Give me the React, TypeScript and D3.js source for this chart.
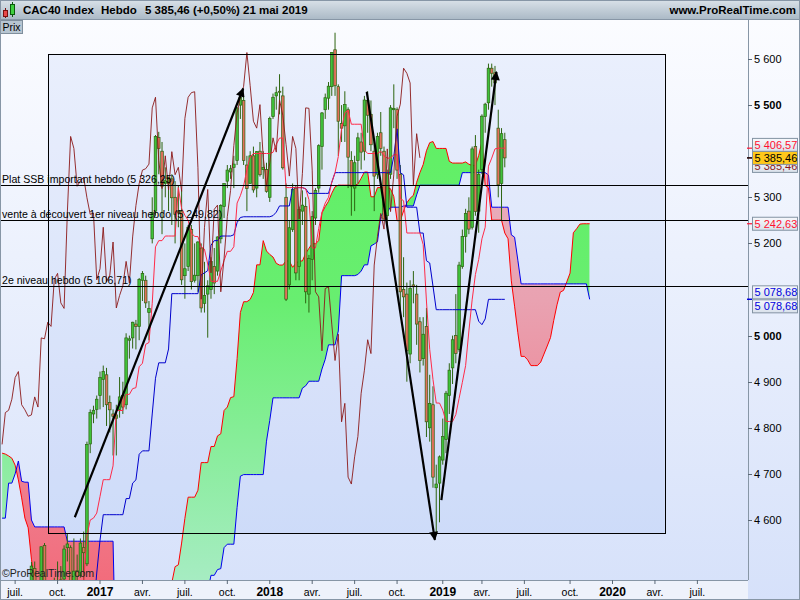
import * as d3 from "d3";

// Weekly bars, CAC40, from the week of 6 June 2016 to the week of 20 May 2019
const firstWeek = new Date(2016, 5, 6);

const opens = [
  4440, 4300, 4240, 4080, 4220, 4200, 4360, 4390, 4430, 4420,
  4495, 4400, 4430, 4545, 4370, 4340, 4385, 4450, 4455, 4472,
  4540, 4540, 4390, 4490, 4480, 4540, 4505, 4765, 4830, 4840,
  4870, 4905, 4915, 4855, 4830, 4820, 4840, 4870, 4850, 4990,
  4995, 5025, 5020, 5120, 5120, 5050, 5210, 5270, 5430, 5400,
  5330, 5330, 5340, 5300, 5270, 5270, 5130, 5150, 5230, 5120,
  5130, 5190, 5070, 5090, 5100, 5150, 5140, 5210, 5280, 5335,
  5355, 5365, 5380, 5500, 5510, 5370, 5330, 5390, 5320, 5400,
  5360, 5360,
  5300, 5475, 5520, 5530, 5520, 5300, 5110, 5230, 5320, 5150,
  5270, 5280, 5090, 5165, 5255, 5320, 5410, 5490, 5515, 5540,
  5620, 5540, 5460, 5455, 5490, 5380, 5320, 5380, 5420, 5400,
  5510, 5480, 5400, 5350, 5440, 5400, 5260, 5350, 5490, 5490,
  5350, 5100, 5090, 4960, 5110, 5090, 5030, 4950, 5020, 4800,
  4850, 4670, 4680,
  4730, 4775, 4870, 4930, 5000, 4970, 5150, 5215, 5270, 5235,
  5410, 5270, 5360, 5475, 5505, 5580, 5570, 5450, 5330, 5425,
];
const highs = [
  4462, 4325, 4465, 4260, 4250, 4392, 4410, 4445, 4440, 4509,
  4510, 4450, 4542, 4550, 4395, 4460, 4475, 4510, 4500, 4545,
  4570, 4545, 4560, 4525, 4560, 4575, 4770, 4840, 4848, 4870,
  4922, 4935, 4930, 4870, 4840, 4850, 4910, 4900, 5005, 5000,
  5030, 5034, 5125, 5140, 5130, 5075, 5300, 5435, 5442, 5420,
  5365, 5345, 5350, 5335, 5325, 5315, 5200, 5240, 5240, 5200,
  5205, 5200, 5160, 5120, 5170, 5190, 5215, 5285, 5330, 5370,
  5370, 5390, 5495, 5517, 5520, 5390, 5400, 5410, 5400, 5420,
  5400, 5375,
  5475, 5525, 5540, 5567, 5540, 5330, 5250, 5330, 5325, 5280,
  5315, 5300, 5175, 5270, 5320, 5415, 5485, 5525, 5550, 5615,
  5657, 5545, 5500, 5530, 5495, 5400, 5390, 5440, 5440, 5520,
  5530, 5510, 5420, 5440, 5485, 5410, 5360, 5500, 5545, 5495,
  5370, 5170, 5115, 5120, 5140, 5110, 5040, 5040, 5060, 4915,
  4890, 4720, 4740,
  4820, 4880, 4940, 5000, 5090, 5160, 5230, 5275, 5300, 5410,
  5435, 5360, 5480, 5505, 5590, 5590, 5585, 5490, 5450, 5440,
];
const lows = [
  4296, 4147, 4035, 3955, 4100, 4190, 4316, 4333, 4325, 4410,
  4380, 4380, 4395, 4385, 4288, 4330, 4340, 4420, 4405, 4440,
  4510, 4360, 4380, 4450, 4475, 4440, 4500, 4745, 4810, 4820,
  4840, 4845, 4804, 4790, 4740, 4740, 4822, 4830, 4840, 4950,
  4972, 4970, 4990, 5075, 5060, 4990, 5200, 5260, 5350, 5220,
  5300, 5270, 5240, 5200, 5235, 5110, 5080, 5140, 5100, 5115,
  5095, 5050, 5050, 4995.5, 5080, 5090, 5130, 5200, 5255, 5320,
  5340, 5320, 5370, 5470, 5370, 5270, 5330, 5310, 5300, 5345,
  5340, 5310,
  5290, 5470, 5490, 5480, 5360, 5075, 5100, 5225, 5120, 5120,
  5240, 5070, 5050, 5120, 5240, 5310, 5360, 5470, 5490, 5520,
  5520, 5390, 5420, 5420, 5320, 5260, 5270, 5330, 5360, 5380,
  5440, 5400, 5270, 5340, 5390, 5250, 5240, 5340, 5450, 5340,
  5050, 5040, 4900, 4940, 5070, 4980, 4920, 4935, 4780, 4770,
  4670, 4567.36, 4595,
  4720, 4745, 4830, 4895, 4940, 4965, 5145, 5180, 5220, 5230,
  5260, 5223.14, 5350, 5440, 5490, 5540, 5500, 5300, 5250, 5365,
];
const closes = [
  4306, 4193, 4106, 4237, 4190, 4373, 4381, 4440, 4411, 4500,
  4400, 4424, 4542, 4385, 4332, 4390, 4448, 4449, 4470, 4537,
  4548, 4377, 4489, 4478, 4550, 4529, 4764, 4833, 4838, 4862,
  4909, 4922, 4850, 4839, 4825, 4828, 4867, 4845, 4995, 4993,
  5029, 5020, 5122, 5135, 5071, 5059, 5267, 5432, 5406, 5324,
  5336, 5343, 5299, 5263, 5266, 5121, 5145, 5235, 5117, 5131,
  5203, 5060, 5087, 5108, 5161, 5114, 5214, 5282, 5330, 5359,
  5362, 5372, 5494, 5517, 5380, 5319, 5390, 5316, 5399, 5349,
  5365, 5313,
  5471, 5517, 5527, 5529, 5364, 5079, 5234, 5317, 5136, 5274,
  5283, 5095, 5167, 5258, 5315, 5412, 5483, 5516, 5541, 5614,
  5542, 5465, 5450, 5501, 5387, 5324, 5375, 5429, 5398, 5511,
  5478, 5414, 5346, 5432, 5406, 5253, 5352, 5494, 5493, 5359,
  5095, 5084, 4967, 5102, 5106, 5025, 4946, 5003, 4813, 4853,
  4693, 4678, 4737,
  4781, 4875, 4925, 4991, 4961, 5153, 5215, 5265, 5231, 5405,
  5269, 5350, 5476, 5502, 5580, 5569, 5548, 5327, 5438, 5385.46,
];

// Leading spans at the left edge (built from bars older than the first one shown)
const senkouALead = [
  4745, 4743, 4739, 4734, 4719, 4687, 4648, 4604, 4583, 4515,
  4460, 4420, 4400, 4380, 4350, 4330, 4300, 4290, 4280, 4270,
  4290, 4310, 4330, 4340, 4360, 4380,
];
const senkouBLead = [
  4604, 4604, 4680, 4680, 4700, 4728, 4684, 4682, 4682, 4600,
  4585, 4585, 4585, 4585, 4585, 4585, 4585, 4585, 4585, 4585,
  4554, 4554, 4554, 4554, 4554, 4554, 4554, 4554, 4554, 4554,
  4554, 4554, 4554, 4554, 4554,
];

// 5 100 and 5 400 sit under the value tags, so they are not shown
const priceTicks = [4600, 4700, 4800, 4900, 5000, 5200, 5300, 5500, 5600];

const levelNames = ["Plat SSB important hebdo", "vente à découvert 1er niveau hebdo", "2e niveau hebdo"];
const levelValues = [5326.25, 5249.82, 5106.71];

const trendStartDates = [new Date(2016, 10, 9), new Date(2018, 6, 28), new Date(2019, 0, 4)];
const trendStartValues = [4606, 5529, 4643];
const trendEndDates = [new Date(2017, 10, 5), new Date(2018, 11, 21), new Date(2019, 4, 2)];
const trendEndValues = [5536, 4557, 5572];

const boxDates = [new Date(2016, 8, 12), new Date(2020, 3, 27)];
const boxValues = [5611, 4572];

// last values shown on the price scale
const tagNames = ["chikou", "tenkan", "prix", "senkouA", "kijun", "senkouB"];
const tagValues = [5385.46, 5406.57, 5385.46, 5242.63, 5078.68, 5078.68];

const instrument = "CAC40 Index";
const period = "Hebdo";
const change = "(+0,50%)";
const quoteDate = "21 mai 2019";

// ---- Ichimoku spans from the bars
const n = closes.length;
const shift = 26;
const weekDates = d3.range(n + shift).map(i => d3.timeDay.offset(firstWeek, 7 * i));

function midRange(from: number, to: number): number {
  const a = Math.max(0, from);
  return (d3.max(highs.slice(a, to + 1))! + d3.min(lows.slice(a, to + 1))!) / 2;
}
const tenkan = d3.range(n).map(i => midRange(i - 8, i));
const kijun = d3.range(n).map(i => midRange(i - 25, i));
const senkouA = d3.range(n + shift).map(i =>
  i < senkouALead.length ? senkouALead[i] : (tenkan[i - shift] + kijun[i - shift]) / 2);
const senkouB = d3.range(n + shift).map(i =>
  i < senkouBLead.length ? senkouBLead[i] : midRange(i - 77, i - shift));
const chikou = d3.range(n - shift).map(i => closes[i + shift]);

const fr = d3.formatLocale({ decimal: ",", thousands: " ", grouping: [3], currency: ["", " €"] });
const fmtTick = fr.format(",.0f");
const fmt2 = fr.format(",.2f");

const W = 800, H = 600;
const PL = 0, PR = 748, PT = 20, PB = 580;
const FONT = "'Liberation Sans', Arial, sans-serif";
const WICK = "#2d6410";
const TAG_H = 13;

const x = d3.scaleTime().domain([new Date(2017, 0, 2), new Date(2018, 11, 31)]).range([100, 439.5]);
const y = d3.scaleLinear().domain([4600, 5600]).range([520, 59]);

const monthNames = ["", "", "", "avr.", "", "", "juil.", "", "", "oct."];
const quarterStarts = d3.timeMonth.every(3)!.range(new Date(2016, 6, 1), new Date(2020, 9, 1));

export default function App() {
  const xi = (i: number) => x(weekDates[i]);
  const seriesLine = (vals: number[]) =>
    d3.line<number>().x((_, i) => xi(i)).y(v => y(v))(vals) ?? "";

  const idx = d3.range(n + shift);
  const areaFrom = (edge: number) =>
    d3.area<number>().x(i => xi(i)).y0(edge).y1(i => y(senkouB[i]))(idx) ?? "";
  const clipFrom = (edge: number) =>
    d3.area<number>().x(i => xi(i)).y0(edge).y1(i => y(senkouA[i]))(idx) ?? "";

  const yPrice = y(tagValues[2]);
  const tagY: Record<string, number> = {
    prix: yPrice,
    tenkan: Math.min(y(tagValues[1]), yPrice - TAG_H),
    chikou: yPrice + 8,
    senkouA: y(tagValues[3]),
    kijun: y(tagValues[4]) - TAG_H / 2 - 0.5,
    senkouB: y(tagValues[5]) + TAG_H / 2 + 0.5,
  };
  const tagColor: Record<string, string> = {
    prix: "#000", tenkan: "#ff1030", chikou: "#8c1a1a", senkouA: "#ff1030", kijun: "#0000dd", senkouB: "#0000dd",
  };

  return (
    <svg width={W} height={H} style={{ position: "fixed", left: 0, top: 0 }} fontFamily={FONT}>
      <defs>
        <linearGradient id="bg" x1="0" x2="0" y1={PT} y2={H} gradientUnits="userSpaceOnUse">
          <stop offset="0" stopColor="#fbfcff" />
          <stop offset="1" stopColor="#d6e1fa" />
        </linearGradient>
        <linearGradient id="head" x1="0" x2="0" y1="0" y2="1">
          <stop offset="0" stopColor="#d9e1e8" />
          <stop offset="1" stopColor="#a9b8c5" />
        </linearGradient>
        <linearGradient id="tag" x1="0" x2="0" y1="0" y2="1">
          <stop offset="0" stopColor="#f6f8fc" />
          <stop offset="1" stopColor="#d9e1eb" />
        </linearGradient>
        <linearGradient id="kumoUp" x1="0" x2="0" y1={PT} y2={PB} gradientUnits="userSpaceOnUse">
          <stop offset="0" stopColor="#5cf05e" />
          <stop offset="0.5" stopColor="#68ee70" />
          <stop offset="1" stopColor="#a6ecc2" />
        </linearGradient>
        <linearGradient id="kumoDown" x1="0" x2="0" y1={PT} y2={PB} gradientUnits="userSpaceOnUse">
          <stop offset="0" stopColor="#e8bccb" />
          <stop offset="0.5" stopColor="#e9a2b1" />
          <stop offset="1" stopColor="#f26c7c" />
        </linearGradient>
        <clipPath id="plot"><rect x={PL + 1} y={PT} width={PR - PL - 1} height={PB - PT} /></clipPath>
        <clipPath id="belowA"><path d={clipFrom(H)} /></clipPath>
        <clipPath id="aboveA"><path d={clipFrom(0)} /></clipPath>
        <marker id="arrow" viewBox="0 0 10 10" refX="9" refY="5" markerWidth="11" markerHeight="9"
          markerUnits="userSpaceOnUse" orient="auto">
          <path d="M0,0 L10,5 L0,10 z" fill="#000" />
        </marker>
      </defs>

      <rect x={0} y={PT} width={W} height={H - PT} fill="url(#bg)" />
      <rect x={0} y={PB} width={PR} height={H - PB} fill="#eef2fb" />

      <g clipPath="url(#plot)">
        <rect x={x(boxDates[0])} y={y(boxValues[0])} width={x(boxDates[1]) - x(boxDates[0])}
          height={y(boxValues[1]) - y(boxValues[0])} fill="rgba(70,110,225,0.08)" />

        {/* cloud */}
        <path d={areaFrom(0)} fill="url(#kumoUp)" clipPath="url(#belowA)" />
        <path d={areaFrom(H)} fill="url(#kumoDown)" clipPath="url(#aboveA)" />
        <path d={seriesLine(senkouA)} fill="none" stroke="#ff0000" strokeWidth={1} />
        <path d={seriesLine(senkouB)} fill="none" stroke="#0000ee" strokeWidth={1} />

        {/* candles */}
        {closes.map((c, i) => {
          const cx = xi(i);
          const o = opens[i];
          const top = y(Math.max(o, c));
          const bot = y(Math.min(o, c));
          return (
            <g key={i}>
              <line x1={cx} x2={cx} y1={y(highs[i])} y2={y(lows[i])} stroke={WICK} strokeWidth={1} />
              <rect x={cx - 1.3} y={top} width={2.6} height={Math.max(1, bot - top)}
                fill={c >= o ? "#3fc23a" : "#e2705c"} stroke={WICK} strokeWidth={0.7} />
            </g>
          );
        })}

        <path d={seriesLine(kijun)} fill="none" stroke="#0000cc" strokeWidth={1} />
        <path d={seriesLine(tenkan)} fill="none" stroke="#ff2a48" strokeWidth={1} />
        <path d={seriesLine(chikou)} fill="none" stroke="#8c1a1a" strokeWidth={1} strokeOpacity={0.9} />

        {levelValues.map((v, i) => (
          <line key={i} x1={PL} x2={PR} y1={Math.round(y(v)) + 0.5} y2={Math.round(y(v)) + 0.5} stroke="#000" />
        ))}
        <rect x={Math.round(x(boxDates[0])) + 0.5} y={Math.round(y(boxValues[0])) + 0.5}
          width={Math.round(x(boxDates[1]) - x(boxDates[0]))}
          height={Math.round(y(boxValues[1]) - y(boxValues[0]))} fill="none" stroke="#000" />

        {trendStartDates.map((d, i) => (
          <line key={i} x1={x(d)} y1={y(trendStartValues[i])} x2={x(trendEndDates[i])} y2={y(trendEndValues[i])}
            stroke="#000" strokeWidth={2.2} markerEnd="url(#arrow)" />
        ))}

        {levelValues.map((v, i) => (
          <text key={i} x={2} y={y(v) - 2.5} fontSize={10.6} fill="#000">
            {`${levelNames[i]} (${fmt2(v)})`}
          </text>
        ))}
        <text x={2} y={PB - 3} fontSize={10.6} fill="#222">©ProRealTime.com</text>
      </g>

      {/* price scale */}
      <line x1={PR + 0.5} x2={PR + 0.5} y1={PT} y2={PB} stroke="#8796a6" />
      {priceTicks.map(v => (
        <g key={v}>
          <line x1={PR} x2={PR + 4} y1={Math.round(y(v)) + 0.5} y2={Math.round(y(v)) + 0.5} stroke="#5a6876" />
          <text x={PR + 6} y={y(v) + 4} fontSize={11} fontWeight={v % 500 === 0 ? "bold" : "normal"} fill="#000">
            {fmtTick(v)}
          </text>
        </g>
      ))}
      {tagNames.map((name, i) => (
        <line key={name} x1={PR - 1} x2={PR + 4} y1={y(tagValues[i])} y2={y(tagValues[i])}
          stroke={tagColor[name]} strokeWidth={1.2} />
      ))}
      {tagNames.map((name, i) => {
        const cy = tagY[name];
        const isPrice = name === "prix";
        return (
          <g key={name}>
            <rect x={PR + 4.5} y={cy - TAG_H / 2} width={45} height={TAG_H}
              fill={isPrice ? "#ffc81a" : "url(#tag)"} stroke="#8393a3" />
            <text x={PR + 6.5} y={cy + 4} fontSize={11} fill={tagColor[name]}>{fmt2(tagValues[i])}</text>
          </g>
        );
      })}

      {/* time scale */}
      <line x1={PL} x2={PR} y1={PB + 0.5} y2={PB + 0.5} stroke="#8796a6" />
      {quarterStarts.map(d => {
        const tx = x(d3.timeMonday.ceil(d));
        const isYear = d.getMonth() === 0;
        return (
          <g key={d.getTime()}>
            <line x1={tx} x2={tx} y1={PB} y2={PB + 4} stroke="#5a6876" />
            <text x={tx} y={PB + 16} textAnchor="middle" fontSize={isYear ? 12 : 10.5}
              fontWeight={isYear ? "bold" : "normal"} fill="#000">
              {isYear ? d.getFullYear() : monthNames[d.getMonth()]}
            </text>
          </g>
        );
      })}

      {/* header */}
      <rect x={0} y={0} width={W} height={PT} fill="url(#head)" />
      <line x1={0} x2={W} y1={PT - 0.5} y2={PT - 0.5} stroke="#8796a6" />
      <line x1={5.5} x2={5.5} y1={8} y2={18} stroke="#7a1010" />
      <rect x={3.5} y={10.5} width={4} height={6} fill="#e84848" stroke="#7a1010" />
      <line x1={12.5} x2={12.5} y1={2} y2={17} stroke="#0d5a0d" />
      <rect x={10.5} y={4.5} width={4} height={10} fill="#3fd03f" stroke="#0d5a0d" />
      <text y={14} fontSize={11.5} fontWeight="bold" fill="#000">
        <tspan x={23}>{instrument}</tspan>
        <tspan x={101}>{period}</tspan>
        <tspan x={145}>{`${fmt2(closes[n - 1])} ${change}`}</tspan>
        <tspan x={243}>{quoteDate}</tspan>
      </text>
      <text x={W - 4} y={14} fontSize={11.5} fontWeight="bold" textAnchor="end" fill="#000">www.ProRealTime.com</text>
      <rect x={0.5} y={PT + 0.5} width={22} height={13} fill="#b7c5d1" stroke="#7f8e9c" />
      <text x={2.5} y={PT + 11} fontSize={10.5} fill="#000">Prix</text>

      <rect x={0.5} y={0.5} width={W - 1} height={H - 1} fill="none" stroke="#8796a6" />
    </svg>
  );
}
